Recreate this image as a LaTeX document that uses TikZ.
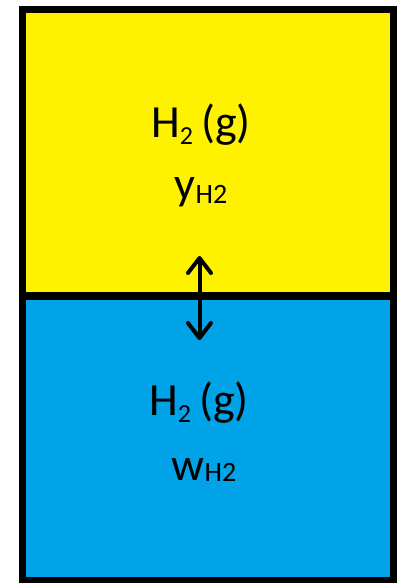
\documentclass[tikz,border=0pt]{standalone}
\usepackage{fontspec}
\setmainfont{Carlito}
\usetikzlibrary{arrows.meta}
\definecolor{gasyellow}{RGB}{255,242,0}
\definecolor{liqblue}{RGB}{0,162,232}
\newcommand{\bigtxt}{\fontsize{46}{50}\selectfont}
\newcommand{\subtwo}[1]{\raisebox{-7pt}{\fontsize{26}{28}\selectfont #1}}
\newcommand{\subfrac}[2]{\raisebox{-#2}{\fontsize{28}{30}\selectfont #1}}
\tikzset{
  lbl/.style={anchor=base, inner sep=0pt, font=\bigtxt, text=black},
  border/.style={draw=black, line width=7pt},
  divider/.style={draw=black, line width=8pt},
  exch/.style={draw=black, line width=4pt, line cap=round,
    {Straight Barb[length=15pt,width=23pt,line cap=round,line join=round]}-{Straight Barb[length=15pt,width=23pt,line cap=round,line join=round]}}
}
\begin{document}
\begin{tikzpicture}[x=1pt,y=-1pt]
\useasboundingbox (0,0) rectangle (402,583);
\fill[white] (0,0) rectangle (402,583);
\fill[gasyellow] (22.5,9.5) rectangle (393.5,296);
\fill[liqblue] (22.5,296) rectangle (393.5,580.5);
\draw[divider] (22.5,296) -- (393.5,296);
\draw[border] (22.5,9.5) rectangle (393.5,580.5);
\node[lbl] (toptitle) at (201,137) {H\subtwo{2}\hspace{8pt}(g)};
\node[lbl] (topfrac) at (201,199) {y\subfrac{H2}{4pt}};
\node[lbl] (bottitle) at (199,415) {H\subtwo{2}\hspace{8pt}(g)};
\node[lbl] (botfrac) at (204,480) {w\subfrac{H2}{1.5pt}};
\coordinate (atop) at (199.5,256);
\coordinate (abot) at (199.5,340);
\draw[exch] (atop) -- (abot);
\end{tikzpicture}
\end{document}
